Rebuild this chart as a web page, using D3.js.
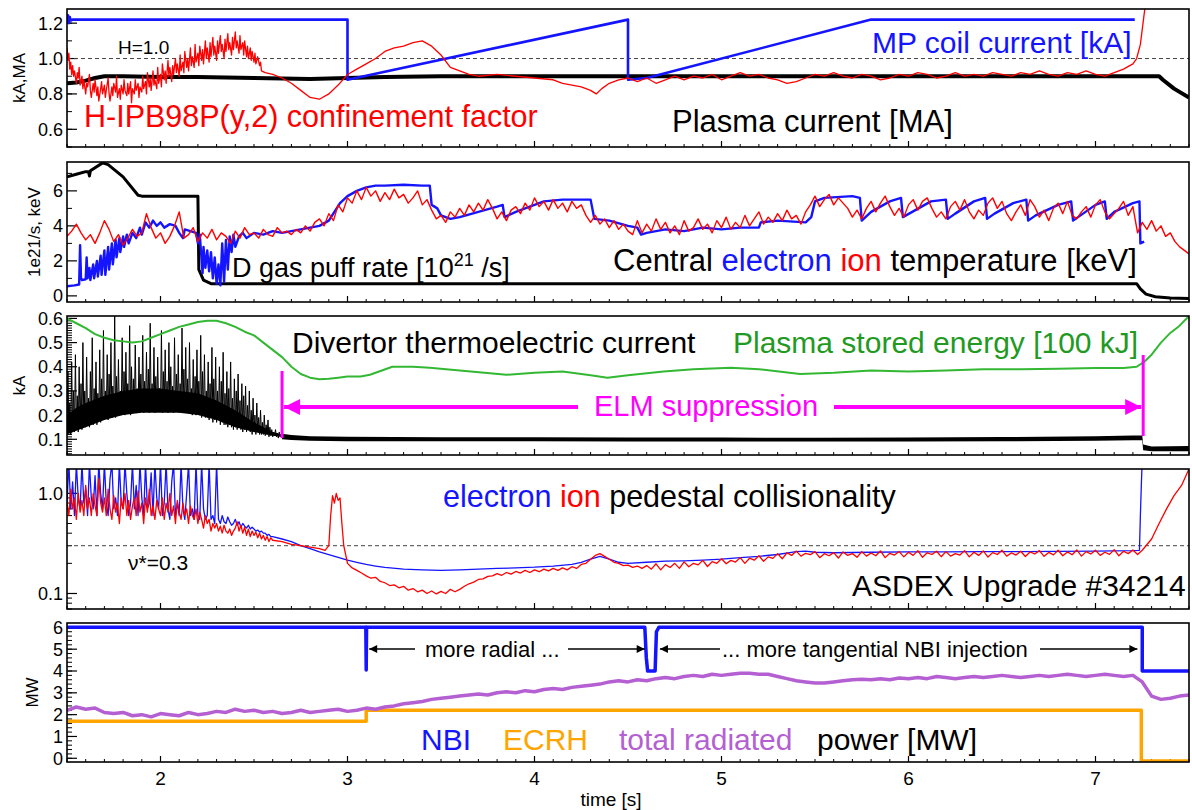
<!DOCTYPE html>
<html><head><meta charset="utf-8">
<script src="https://cdn.jsdelivr.net/npm/d3@7"></script>
<style>
body{margin:0;background:#fff}
svg{display:block}
text{font-family:"Liberation Sans",Arial,Helvetica,sans-serif}
</style>
</head><body>
<svg id="c" width="1192" height="810"></svg>
<script>
// ---------------- DATA ----------------
const timeDomain = [1.5, 7.5];
const xTicks = [2, 3, 4, 5, 6, 7];

// Panel 1
const p1Ticks = [0.6, 0.8, 1.0, 1.2];
const mpCoil = [[1.5,1.2],[1.505,1.245],[1.51,1.2],[1.515,1.235],[1.52,1.215],[1.53,1.22],[3.0,1.22],[3.0,0.88],[4.5,1.22],[4.5,0.88],[4.6,0.89],[5.8,1.22],[7.21,1.22]];
const plasmaCurrent = [[1.5,0.86],[1.55,0.865],[1.6,0.875],[1.65,0.89],[1.7,0.9],[1.8,0.9],[2.0,0.895],[2.2,0.895],[2.5,0.89],[2.8,0.885],[3.0,0.89],[3.2,0.895],[3.5,0.9],[4.0,0.9],[5.0,0.9],[6.0,0.9],[7.0,0.9],[7.34,0.9],[7.36,0.88],[7.42,0.83],[7.5,0.78]];
const hFactor = [[1.5,1.06],[1.505,0.99],[1.51,1.03],[1.515,0.94],[1.52,0.98],[1.525,0.91],[1.53,0.96],[1.535,0.9],[1.54,0.93],[1.55,0.86],[1.555,0.92],[1.56,0.89],[1.565,0.95],[1.57,0.85],[1.58,0.9],[1.585,0.83],[1.59,0.88],[1.6,0.8],[1.605,0.86],[1.61,0.84],[1.62,0.91],[1.625,0.82],[1.63,0.78],[1.64,0.86],[1.645,0.81],[1.65,0.88],[1.66,0.79],[1.665,0.84],[1.67,0.76],[1.68,0.83],[1.685,0.87],[1.69,0.8],[1.7,0.85],[1.705,0.78],[1.71,0.82],[1.72,0.89],[1.725,0.8],[1.73,0.76],[1.74,0.84],[1.745,0.79],[1.75,0.86],[1.76,0.81],[1.765,0.9],[1.77,0.78],[1.78,0.83],[1.785,0.77],[1.79,0.85],[1.8,0.8],[1.805,0.88],[1.81,0.82],[1.82,0.79],[1.825,0.86],[1.83,0.8],[1.84,0.87],[1.845,0.75],[1.85,0.83],[1.86,0.8],[1.865,0.88],[1.87,0.82],[1.88,0.86],[1.885,0.78],[1.89,0.84],[1.9,0.81],[1.905,0.9],[1.91,0.83],[1.92,0.87],[1.925,0.8],[1.93,0.92],[1.94,0.84],[1.945,0.89],[1.95,0.82],[1.96,0.93],[1.965,0.85],[1.97,0.88],[1.98,0.83],[1.985,0.95],[1.99,0.86],[2.0,0.91],[2.005,0.84],[2.01,0.97],[2.02,0.88],[2.025,0.93],[2.03,0.86],[2.04,0.99],[2.045,0.9],[2.05,0.95],[2.06,0.87],[2.065,0.96],[2.07,0.91],[2.08,1.0],[2.085,0.92],[2.09,0.97],[2.1,0.9],[2.105,1.02],[2.11,0.93],[2.12,0.98],[2.125,0.92],[2.13,1.04],[2.14,0.95],[2.145,1.0],[2.15,0.93],[2.16,1.06],[2.165,0.96],[2.17,1.01],[2.18,0.95],[2.185,1.08],[2.19,0.98],[2.2,1.03],[2.205,0.96],[2.21,1.07],[2.22,0.99],[2.225,1.05],[2.23,0.97],[2.24,1.1],[2.245,1.0],[2.25,1.06],[2.26,0.98],[2.265,1.09],[2.27,1.01],[2.28,1.12],[2.285,1.02],[2.29,1.07],[2.3,0.99],[2.305,1.1],[2.31,1.03],[2.32,1.13],[2.325,1.04],[2.33,1.08],[2.34,1.0],[2.345,1.11],[2.35,1.04],[2.36,1.14],[2.365,1.05],[2.37,1.09],[2.38,1.02],[2.385,1.12],[2.39,1.05],[2.4,1.15],[2.405,1.06],[2.41,1.1],[2.42,1.03],[2.425,1.13],[2.43,1.05],[2.44,1.09],[2.445,1.02],[2.45,1.1],[2.46,1.01],[2.465,1.07],[2.47,1.0],[2.48,1.06],[2.485,0.99],[2.49,1.04],[2.5,0.98],[2.505,1.03],[2.51,0.97],[2.52,1.01],[2.53,0.96],[2.535,0.98],[2.54,0.93],[2.56,0.92],[2.6,0.91],[2.65,0.89],[2.7,0.86],[2.75,0.82],[2.8,0.78],[2.85,0.77],[2.9,0.8],[2.95,0.85],[3.0,0.91],[3.05,0.94],[3.1,0.97],[3.15,1.0],[3.2,1.04],[3.25,1.06],[3.3,1.07],[3.35,1.09],[3.4,1.1],[3.45,1.07],[3.5,1.02],[3.55,0.95],[3.6,0.93],[3.65,0.91],[3.7,0.9],[3.8,0.91],[3.9,0.9],[4.0,0.89],[4.1,0.88],[4.15,0.86],[4.2,0.85],[4.25,0.84],[4.3,0.82],[4.33,0.8],[4.36,0.83],[4.4,0.86],[4.45,0.88],[4.5,0.89],[4.55,0.87],[4.6,0.89],[4.65,0.86],[4.7,0.88],[4.75,0.9],[4.8,0.88],[4.85,0.9],[4.9,0.89],[4.95,0.91],[5.0,0.88],[5.05,0.9],[5.1,0.92],[5.15,0.9],[5.2,0.91],[5.25,0.89],[5.3,0.88],[5.35,0.86],[5.4,0.87],[5.45,0.89],[5.5,0.91],[5.55,0.9],[5.6,0.92],[5.65,0.9],[5.7,0.89],[5.75,0.91],[5.8,0.9],[5.85,0.88],[5.9,0.89],[5.95,0.91],[6.0,0.9],[6.05,0.92],[6.1,0.91],[6.15,0.89],[6.2,0.9],[6.25,0.92],[6.3,0.9],[6.35,0.91],[6.4,0.9],[6.45,0.92],[6.5,0.91],[6.55,0.9],[6.6,0.92],[6.65,0.91],[6.7,0.93],[6.75,0.91],[6.8,0.9],[6.85,0.92],[6.9,0.91],[6.95,0.93],[7.0,0.91],[7.05,0.9],[7.1,0.92],[7.15,0.94],[7.2,0.97],[7.22,1.0],[7.24,1.08],[7.26,1.25],[7.28,1.4]];

// Panel 2
const p2Ticks = [0, 2, 4, 6];
const gasPuff = [[1.5,6.8],[1.55,6.95],[1.6,7.1],[1.615,7.1],[1.62,6.85],[1.625,7.15],[1.69,7.6],[1.72,7.5],[1.8,6.8],[1.88,5.75],[1.9,5.7],[2.2,5.7],[2.205,1.5],[2.23,0.9],[2.27,0.7],[7.22,0.7],[7.24,0.4],[7.27,0.1],[7.32,-0.05],[7.4,-0.12],[7.5,-0.15]];
const teCentral = [[1.5,0.55],[1.54,0.6],[1.565,0.65],[1.57,2.9],[1.575,1.0],[1.58,0.9],[1.6,0.95],[1.605,2.2],[1.61,1.0],[1.62,1.6],[1.625,0.9],[1.64,1.8],[1.645,1.0],[1.66,2.0],[1.665,1.1],[1.68,2.3],[1.685,1.2],[1.7,2.6],[1.705,1.2],[1.72,2.8],[1.725,1.5],[1.74,3.0],[1.745,1.8],[1.76,3.2],[1.765,2.2],[1.78,3.3],[1.785,2.5],[1.8,3.4],[1.805,2.8],[1.82,3.5],[1.83,3.0],[1.85,3.6],[1.87,3.3],[1.89,3.9],[1.9,3.5],[1.92,4.2],[1.94,3.9],[1.96,4.3],[1.98,4.0],[2.0,4.2],[2.02,3.9],[2.05,4.1],[2.08,4.0],[2.1,3.6],[2.12,3.3],[2.13,3.8],[2.16,3.7],[2.19,3.6],[2.2,3.0],[2.21,3.5],[2.225,1.3],[2.23,2.8],[2.24,1.6],[2.25,2.6],[2.26,1.4],[2.27,2.5],[2.28,1.0],[2.29,2.2],[2.3,0.7],[2.31,1.8],[2.32,0.6],[2.33,3.0],[2.34,0.8],[2.35,3.2],[2.36,1.5],[2.37,3.4],[2.38,2.5],[2.39,3.5],[2.4,2.8],[2.42,3.4],[2.44,3.6],[2.46,3.3],[2.5,3.6],[2.55,3.5],[2.6,3.7],[2.65,3.6],[2.7,3.7],[2.75,3.8],[2.8,3.9],[2.85,4.0],[2.9,4.3],[2.93,4.8],[2.96,5.3],[3.0,5.7],[3.05,6.0],[3.1,6.2],[3.15,6.3],[3.2,6.3],[3.3,6.35],[3.4,6.3],[3.44,6.3],[3.45,5.2],[3.48,5.0],[3.5,4.6],[3.55,4.4],[3.6,4.5],[3.7,4.8],[3.8,5.1],[3.83,5.2],[3.84,4.5],[3.9,4.8],[4.0,5.2],[4.05,5.4],[4.15,5.5],[4.3,5.5],[4.32,4.4],[4.4,4.3],[4.5,4.0],[4.55,3.9],[4.57,3.5],[4.6,3.6],[4.7,3.8],[4.8,3.7],[4.9,3.9],[5.0,3.8],[5.1,3.9],[5.2,3.9],[5.21,4.2],[5.3,4.3],[5.45,4.2],[5.48,4.5],[5.5,5.4],[5.55,5.6],[5.7,5.7],[5.74,5.6],[5.75,4.3],[5.8,4.8],[5.9,5.4],[5.96,5.6],[5.97,4.5],[6.02,4.8],[6.12,5.4],[6.2,5.5],[6.21,4.4],[6.25,4.7],[6.35,5.4],[6.41,5.6],[6.42,4.4],[6.46,4.7],[6.56,5.3],[6.63,5.5],[6.64,4.3],[6.68,4.6],[6.8,5.2],[6.87,5.4],[6.88,4.3],[6.92,4.6],[7.0,5.2],[7.05,5.4],[7.06,4.4],[7.1,4.8],[7.2,5.3],[7.235,5.4],[7.24,3.0],[7.26,3.1]];
const tiCentralStart = 1.5, tiCentralStep = 0.025;
const tiCentral = [3.4,3.7,4.1,3.6,3.2,3.5,3.0,3.6, 4.3,3.8,3.1,3.5,2.9,3.3,3.8,3.4, 3.6,4.7,3.9,3.3,3.6,3.0,3.4,4.0, 4.8,3.3,3.5,3.9,3.1,3.6,3.3,3.8, 3.2,3.6,3.4,3.0,3.7,3.3,3.9,3.5, 3.6,3.3,3.8,3.5,3.4,3.9,3.6,3.7, 3.5,3.8,3.6,4.0,3.7,4.2,4.4,4.0, 4.7,4.3,5.2,4.8,5.6,5.3,6.0,5.5, 6.2,5.7,6.0,5.4,5.9,5.5,6.1,5.6, 5.8,5.3,5.6,6.0,5.2,5.5,4.9,4.4, 4.6,4.2,4.8,4.5,5.0,4.6,5.2,4.8, 5.3,4.9,5.5,5.0,4.4,4.8,4.3,4.9, 5.1,4.7,5.3,4.9,5.6,5.1,5.4,4.9, 5.5,5.0,5.3,4.8,5.4,5.0,5.2,4.6, 4.2,4.6,4.1,4.4,3.9,4.3,3.8,4.1, 3.7,3.5,4.3,3.6,4.1,3.7,4.4,3.8, 4.2,3.6,4.0,3.5,4.3,3.7,3.9,4.4, 3.8,4.1,3.6,4.3,3.9,4.5,3.8,4.2, 3.9,4.6,4.0,4.4,4.8,4.1,4.5,4.2, 4.7,4.3,4.9,4.4,4.6,4.1,4.8,5.2, 5.7,5.1,5.5,5.8,5.2,5.6,5.3,5.0, 4.5,4.9,4.4,5.0,5.4,4.8,5.3,5.7, 5.1,4.6,5.0,4.5,5.2,5.5,4.9,5.4, 5.6,5.0,4.5,4.8,4.4,5.1,5.4,4.9, 5.5,4.8,4.4,4.9,4.6,5.3,5.6,5.0, 5.4,4.7,4.3,4.8,5.2,4.6,5.5,5.1, 4.5,4.9,4.3,5.0,5.3,4.7,5.4,4.6, 4.4,4.8,5.1,4.5,5.2,5.5,4.8,4.4, 4.7,5.0,5.4,4.6,5.1,3.6,4.2,3.8, 4.3,3.7,4.0,3.4,3.6,3.1,2.8,2.6, 2.4];

// Panel 3
const p3Ticks = [0.1, 0.2, 0.3, 0.4, 0.5, 0.6];
const storedEnergy = [[1.5,0.6],[1.55,0.58],[1.6,0.56],[1.65,0.535],[1.7,0.52],[1.75,0.51],[1.8,0.505],[1.85,0.5],[1.9,0.505],[1.95,0.52],[2.0,0.535],[2.05,0.55],[2.1,0.565],[2.15,0.575],[2.2,0.585],[2.25,0.59],[2.3,0.59],[2.35,0.58],[2.4,0.565],[2.45,0.545],[2.5,0.53],[2.55,0.5],[2.6,0.47],[2.65,0.44],[2.7,0.4],[2.75,0.37],[2.8,0.355],[2.85,0.348],[2.9,0.35],[2.95,0.355],[3.0,0.36],[3.07,0.36],[3.12,0.367],[3.24,0.4],[3.35,0.4],[3.44,0.396],[3.6,0.385],[3.85,0.367],[4.0,0.375],[4.15,0.38],[4.3,0.365],[4.39,0.355],[4.5,0.365],[4.69,0.38],[4.85,0.39],[5.05,0.396],[5.2,0.39],[5.42,0.37],[5.6,0.375],[5.8,0.385],[6.0,0.38],[6.2,0.385],[6.4,0.39],[6.6,0.39],[6.8,0.392],[7.0,0.395],[7.15,0.395],[7.22,0.4],[7.26,0.42],[7.3,0.45],[7.35,0.5],[7.4,0.54],[7.45,0.57],[7.5,0.61]];
const divElmyStart = 1.5, divElmyStep = 0.005;
const divElmy = [0.12,0.38,0.13,0.25,0.12,0.42,0.14,0.3,0.13,0.45, 0.14,0.28,0.13,0.4,0.15,0.33,0.14,0.5,0.16,0.3, 0.15,0.44,0.16,0.27,0.15,0.38,0.17,0.52,0.16,0.31, 0.17,0.42,0.16,0.29,0.18,0.47,0.17,0.35,0.18,0.55, 0.18,0.3,0.19,0.45,0.18,0.37,0.2,0.5,0.19,0.32, 0.2,0.62,0.19,0.36,0.2,0.43,0.21,0.3,0.2,0.52, 0.21,0.38,0.2,0.46,0.22,0.33,0.21,0.57,0.2,0.4, 0.22,0.35,0.21,0.49,0.22,0.31,0.21,0.44,0.23,0.37, 0.22,0.53,0.21,0.34,0.23,0.46,0.22,0.39,0.21,0.58, 0.22,0.33,0.23,0.48,0.21,0.36,0.22,0.44,0.23,0.31, 0.22,0.55,0.21,0.38,0.23,0.47,0.22,0.34,0.21,0.5, 0.23,0.4,0.22,0.32,0.21,0.52,0.23,0.37,0.22,0.45, 0.21,0.33,0.22,0.56,0.23,0.39,0.21,0.48,0.22,0.35, 0.21,0.5,0.22,0.31,0.2,0.43,0.21,0.36,0.2,0.47, 0.21,0.34,0.2,0.53,0.19,0.38,0.2,0.45,0.19,0.3, 0.19,0.42,0.18,0.33,0.19,0.48,0.17,0.35,0.18,0.44, 0.17,0.3,0.18,0.4,0.16,0.34,0.17,0.46,0.16,0.29, 0.16,0.38,0.15,0.31,0.16,0.42,0.15,0.27,0.14,0.35, 0.15,0.3,0.14,0.37,0.15,0.26,0.14,0.33,0.13,0.28, 0.14,0.32,0.13,0.24,0.14,0.3,0.13,0.22,0.12,0.27, 0.13,0.2,0.12,0.25,0.13,0.19,0.12,0.22,0.12,0.17, 0.12,0.2,0.115,0.16,0.12,0.18,0.11,0.15,0.115,0.14, 0.11,0.13,0.115,0.14,0.11,0.125,0.105,0.13,0.11,0.12, 0.11];
const divCoreT  = [1.5, 1.55, 1.6, 1.7, 1.8, 1.9, 2.0, 2.1, 2.2, 2.3, 2.4, 2.5, 2.6, 2.65];
const divCoreLo = [0.12, 0.135, 0.15, 0.18, 0.2, 0.21, 0.21, 0.21, 0.2, 0.18, 0.15, 0.13, 0.115, 0.11];
const divCoreHi = [0.2, 0.23, 0.25, 0.28, 0.3, 0.31, 0.31, 0.3, 0.29, 0.26, 0.22, 0.17, 0.13, 0.12];
const divBandT  = [2.65, 2.7, 2.8, 3.0, 3.5, 4.0, 4.5, 5.0, 5.5, 6.0, 6.5, 7.0, 7.2, 7.25, 7.255, 7.3, 7.5];
const divBandLo = [0.1, 0.097, 0.094, 0.092, 0.092, 0.092, 0.091, 0.091, 0.091, 0.091, 0.092, 0.094, 0.096, 0.096, 0.055, 0.05, 0.05];
const divBandHi = [0.123, 0.118, 0.113, 0.11, 0.108, 0.108, 0.107, 0.107, 0.106, 0.107, 0.109, 0.113, 0.116, 0.116, 0.078, 0.07, 0.072];
const elmSuppression = [2.65, 7.255];

// Panel 4 (log)
const p4Ticks = [0.1, 1.0];
const nuElmyStart = 1.5, nuElmyStep = 0.01;
const nuElectronElmy = [0.8,2.0,0.7,1.3,0.6,2.0,0.9,0.7,2.0,0.8, 1.1,0.6,2.0,0.9,0.7,1.5,0.6,2.0,1.0,0.7, 2.0,0.8,0.6,1.4,2.0,0.7,0.9,0.6,2.0,0.8, 0.7,2.0,1.0,0.6,0.8,2.0,0.7,1.2,0.6,2.0, 0.9,0.6,2.0,0.7,0.8,1.6,0.6,2.0,0.9,0.7, 2.0,0.6,0.8,2.0,0.7,0.55,1.3,2.0,0.6,0.8, 0.6,2.0,0.7,0.55,1.0,2.0,0.6,0.7,0.55,2.0, 0.6,0.55,2.0,0.7,0.55,0.6,2.0,0.55,0.6,0.5, 2.0,0.55,0.5,0.6,0.52,0.5,0.58,0.52,0.48,0.5, 0.55,0.48,0.52,0.46,0.5,0.47,0.45,0.48,0.44,0.46, 0.44,0.42,0.43,0.41,0.42,0.4,0.4,0.38,0.39,0.37, 0.37];
const nuIonElmy = [0.8,0.6,1.1,0.7,0.9,0.55,1.0,0.65,0.85,0.6, 1.2,0.7,0.9,0.6,1.0,0.75,0.6,1.4,0.8,0.65, 0.9,0.6,1.1,0.7,0.55,0.95,0.65,0.8,0.5,0.9, 0.7,1.0,0.6,0.85,0.55,0.75,0.9,0.6,1.05,0.65, 0.8,0.5,0.9,0.65,1.1,0.6,0.75,0.55,0.85,0.7, 0.6,0.9,0.55,0.8,0.65,1.0,0.6,0.75,0.5,0.85, 0.65,0.55,0.8,0.6,0.7,0.5,0.75,0.6,0.55,0.7, 0.5,0.65,0.55,0.45,0.6,0.5,0.55,0.42,0.5,0.45, 0.5,0.42,0.47,0.4,0.48,0.42,0.4,0.44,0.38,0.42, 0.45,0.52,0.42,0.48,0.4,0.46,0.38,0.44,0.37,0.42, 0.38,0.41,0.36,0.4,0.35,0.38,0.34,0.37,0.33,0.36, 0.34];
const nuElectronLate = [[2.65,0.35],[2.7,0.33],[2.75,0.3],[2.8,0.28],[2.85,0.26],[2.9,0.245],[2.95,0.23],[3.0,0.215],[3.05,0.205],[3.1,0.195],[3.15,0.188],[3.2,0.182],[3.3,0.175],[3.4,0.172],[3.5,0.17],[3.6,0.172],[3.7,0.175],[3.8,0.178],[3.9,0.18],[4.0,0.183],[4.1,0.188],[4.2,0.195],[4.25,0.205],[4.3,0.22],[4.35,0.235],[4.4,0.22],[4.45,0.205],[4.5,0.2],[4.6,0.205],[4.7,0.21],[4.8,0.212],[4.9,0.215],[5.0,0.22],[5.1,0.228],[5.2,0.235],[5.3,0.245],[5.4,0.262],[5.45,0.265],[5.5,0.258],[5.6,0.255],[5.8,0.258],[6.0,0.26],[6.2,0.26],[6.4,0.262],[6.6,0.262],[6.8,0.263],[7.0,0.265],[7.2,0.268],[7.235,0.27],[7.24,0.6],[7.245,1.2],[7.25,2.2]];
const nuIonMid = [[2.65,0.33],[2.7,0.31],[2.75,0.3],[2.8,0.29],[2.85,0.28],[2.88,0.27],[2.9,0.3],[2.91,0.6],[2.92,0.95],[2.93,0.8],[2.94,1.0],[2.95,0.85],[2.96,0.9],[2.97,0.5],[2.98,0.3]];
const nuIonLateStart = 3.0, nuIonLateStep = 0.025;
const nuIonLate = [0.2,0.18,0.17,0.16,0.15,0.142,0.145,0.132, 0.128,0.12,0.122,0.114,0.118,0.108,0.112,0.104, 0.108,0.1,0.106,0.099,0.105,0.1,0.11,0.104, 0.11,0.118,0.125,0.13,0.138,0.14,0.148,0.15, 0.158,0.152,0.162,0.156,0.166,0.16,0.17,0.162, 0.172,0.165,0.175,0.168,0.178,0.17,0.18,0.172, 0.185,0.178,0.195,0.2,0.22,0.24,0.25,0.235, 0.22,0.205,0.2,0.19,0.192,0.182,0.188,0.178, 0.19,0.175,0.198,0.172,0.194,0.182,0.2,0.178, 0.207,0.185,0.2,0.193,0.214,0.186,0.208,0.2, 0.222,0.198,0.214,0.206,0.228,0.2,0.225,0.215, 0.238,0.21,0.232,0.224,0.25,0.222,0.255,0.24, 0.265,0.236,0.252,0.244,0.262,0.228,0.25,0.238, 0.256,0.226,0.26,0.24,0.25,0.23,0.262,0.236, 0.254,0.238,0.266,0.228,0.252,0.242,0.262,0.232, 0.258,0.24,0.268,0.23,0.255,0.245,0.264,0.233, 0.262,0.236,0.25,0.242,0.268,0.232,0.258,0.24, 0.266,0.231,0.256,0.245,0.27,0.236,0.254,0.242, 0.264,0.234,0.26,0.248,0.268,0.235,0.257,0.243, 0.27,0.238,0.26,0.244,0.272,0.236,0.262,0.248, 0.27,0.24,0.258,0.246,0.274,0.238,0.264,0.25, 0.272,0.245,0.27];
const nuIonEnd = [[7.3,0.35],[7.34,0.5],[7.38,0.7],[7.42,0.95],[7.46,1.2],[7.5,1.75]];

// Panel 5
const p5Ticks = [0, 1, 2, 3, 4, 5, 6];
const nbiPower = [[1.5,6.0],[3.098,6.0],[3.1,4.05],[3.102,6.0],[4.59,6.0],[4.598,4.6],[4.605,4.0],[4.645,4.0],[4.652,5.8],[4.665,6.0],[7.25,6.0],[7.25,4.0],[7.5,4.0]];
const ecrhPower = [[1.5,1.7],[3.1,1.7],[3.1,2.2],[7.245,2.2],[7.245,-0.12],[7.5,-0.12]];
const radStart = 1.5, radStep = 0.05;
const radPower = [2.2,2.35,2.25,2.3,2.1,2.05,2.1,1.95,2.0,1.9, 2.05,2.0,1.95,2.1,2.0,2.05,2.15,2.1,2.25,2.15, 2.2,2.1,2.15,2.05,2.1,2.2,2.1,2.15,2.2,2.25, 2.15,2.2,2.3,2.25,2.35,2.4,2.5,2.55,2.6,2.7, 2.75,2.8,2.85,2.9,2.95,2.9,3.0,3.05,3.0,3.1, 3.05,3.15,3.2,3.15,3.25,3.3,3.35,3.4,3.5,3.55, 3.5,3.6,3.55,3.65,3.7,3.65,3.75,3.8,3.75,3.85, 3.8,3.85,3.9,3.9,3.85,3.85,3.75,3.65,3.55,3.5, 3.45,3.45,3.5,3.55,3.6,3.62,3.6,3.65,3.6,3.68, 3.65,3.7,3.65,3.75,3.7,3.65,3.7,3.75,3.7,3.75, 3.8,3.75,3.7,3.75,3.8,3.75,3.8,3.85,3.8,3.75, 3.8,3.85,3.8,3.75,3.8,3.5,2.85,2.7,2.75,2.85, 2.9];
const beamPhases = [3.1, 4.6, 4.66, 7.24];

// ---------------- DRAW ----------------
const svg = d3.select("#c");
const L = 67, R = 1189;
const x = d3.scaleLinear().domain(timeDomain).range([L, R]);
const grid = (t0, dt, vals) => vals.map((v, i) => [t0 + i * dt, v]);

const panels = [
  {top: 9,   bottom: 147, y: d3.scaleLinear().domain([0.5, 1.28]), major: p1Ticks, fmt: d3.format(".1f"), minor: d3.range(0.5, 1.28, 0.1), title: "kA,MA", tx: 19},
  {top: 162, bottom: 302, y: d3.scaleLinear().domain([-0.35, 7.65]), major: p2Ticks, fmt: d3.format("d"), minor: [1,3,5,7], title: "1e21/s, keV", tx: 34},
  {top: 316, bottom: 455, y: d3.scaleLinear().domain([0.035, 0.61]), major: p3Ticks, fmt: d3.format(".1f"), minor: d3.range(0.04, 0.61, 0.01), title: "kA", tx: 19},
  {top: 469, bottom: 609, y: d3.scaleLog().domain([0.07, 1.75]), major: p4Ticks, fmt: d3.format(".1f"), minor: [0.07,0.08,0.09,0.2,0.3,0.4,0.5,0.6,0.7,0.8,0.9], title: null},
  {top: 623, bottom: 762, y: d3.scaleLinear().domain([-0.17, 6.2]), major: p5Ticks, fmt: d3.format("d"), minor: d3.range(-0.0, 6.2, 0.2), title: "MW", tx: 32}
];
panels.forEach(p => p.y.range([p.bottom, p.top]));

const defs = svg.append("defs");
panels.forEach((p, i) => {
  defs.append("clipPath").attr("id", "clip" + i).append("rect")
    .attr("x", L).attr("y", p.top).attr("width", R - L).attr("height", p.bottom - p.top);
});
function arrowMarker(id, color, w, h) {
  defs.append("marker").attr("id", id).attr("viewBox", "0 0 10 10").attr("refX", 10).attr("refY", 5)
    .attr("markerWidth", w).attr("markerHeight", h).attr("orient", "auto-start-reverse")
    .attr("markerUnits", "userSpaceOnUse")
    .append("path").attr("d", "M0,0 L10,5 L0,10 z").attr("fill", color);
}
arrowMarker("arrM", "#ff00ff", 22, 16);
arrowMarker("arrK", "#000", 14, 8);

// axes + frames
const xMinor = d3.range(1.5, 7.5001, 0.1);
panels.forEach((p, i) => {
  const g = svg.append("g");
  g.selectAll(".xm").data(xMinor).join("line")
    .attr("x1", d => x(d)).attr("x2", d => x(d)).attr("y1", p.bottom).attr("y2", p.bottom - 3)
    .attr("stroke", "#000").attr("stroke-width", 1);
  g.selectAll(".xM").data(xTicks).join("line")
    .attr("x1", d => x(d)).attr("x2", d => x(d)).attr("y1", p.bottom).attr("y2", p.bottom - 6)
    .attr("stroke", "#000").attr("stroke-width", 1.2);
  g.selectAll(".ym").data(p.minor.filter(v => v >= p.y.domain()[0] && v <= p.y.domain()[1])).join("line")
    .attr("x1", L).attr("x2", L + 5).attr("y1", d => p.y(d)).attr("y2", d => p.y(d))
    .attr("stroke", "#000").attr("stroke-width", 1);
  g.selectAll(".yM").data(p.major).join("line")
    .attr("x1", L).attr("x2", L + 10).attr("y1", d => p.y(d)).attr("y2", d => p.y(d))
    .attr("stroke", "#000").attr("stroke-width", 1.2);
  g.selectAll(".yl").data(p.major).join("text")
    .attr("x", 63).attr("y", d => p.y(d)).attr("dy", "0.36em").attr("text-anchor", "end")
    .attr("font-size", 18).text(d => p.fmt(d));
  if (p.title) {
    g.append("text").attr("transform", `translate(${p.tx},${(p.top + p.bottom) / 2}) rotate(-90)`)
      .attr("text-anchor", "middle").attr("dy", "0.35em").attr("font-size", 17).text(p.title);
  }
  p.g = svg.append("g").attr("clip-path", `url(#clip${i})`);
});

function line(p, data, color, w) {
  p.g.append("path").datum(data)
    .attr("d", d3.line().x(d => x(d[0])).y(d => p.y(d[1])))
    .attr("fill", "none").attr("stroke", color).attr("stroke-width", w).attr("stroke-linejoin", "round");
}
function band(p, ts, lo, hi, color) {
  const rows = ts.map((t, i) => [t, lo[i], hi[i]]);
  p.g.append("path").datum(rows)
    .attr("d", d3.area().x(d => x(d[0])).y0(d => p.y(d[1])).y1(d => p.y(d[2])))
    .attr("fill", color);
}
function hline(p, v) {
  p.g.append("line").attr("x1", L).attr("x2", R).attr("y1", p.y(v)).attr("y2", p.y(v))
    .attr("stroke", "#444").attr("stroke-width", 1).attr("stroke-dasharray", "4,3");
}
function label(xp, yp, str, color, size, anchor, family) {
  return svg.append("text").attr("x", xp).attr("y", yp).attr("fill", color).attr("font-size", size)
    .attr("text-anchor", anchor || "start").attr("font-family", family || null).text(str);
}

const BLUE = "#1414ff", RED = "#ff0000";

// Panel 1
const P1 = panels[0];
hline(P1, 1.0);
line(P1, plasmaCurrent, "#000", 4);
line(P1, mpCoil, BLUE, 2.6);
line(P1, hFactor, RED, 1.3);
label(118, 54, "H=1.0", "#000", 19);
label(872, 53, "MP coil current [kA]", BLUE, 30);
label(84, 127, "H-IPB98P(y,2) confinement factor", RED, 30.5);
label(672, 132, "Plasma current [MA]", "#000", 31);

// Panel 2
const P2 = panels[1];
line(P2, gasPuff, "#000", 3);
line(P2, teCentral, BLUE, 2.4);
line(P2, grid(tiCentralStart, tiCentralStep, tiCentral), RED, 1.4);
const gp = label(232, 277, "", "#000", 27);
gp.append("tspan").text("D gas puff rate [10");
gp.append("tspan").attr("font-size", 18).attr("dy", -11).text("21");
gp.append("tspan").attr("dy", 11).text(" /s]");
const ct = label(613, 271, "", "#000", 31);
ct.append("tspan").text("Central ");
ct.append("tspan").attr("fill", BLUE).text(" electron");
ct.append("tspan").attr("fill", RED).text(" ion");
ct.append("tspan").text("  temperature [keV]");

// Panel 3
const P3 = panels[2];
band(P3, divCoreT, divCoreLo, divCoreHi, "#000");
line(P3, grid(divElmyStart, divElmyStep, divElmy), "#000", 1);
band(P3, divBandT, divBandLo, divBandHi, "#000");
line(P3, storedEnergy, "#33b833", 2);
label(292, 353, "Divertor thermoelectric current", "#000", 30);
label(733, 353, "Plasma stored energy [100 kJ]", "#229922", 30);
const MAG = "#ff00ff";
const xe0 = x(elmSuppression[0]), xe1 = x(elmSuppression[1]);
svg.append("line").attr("x1", xe0).attr("x2", xe0).attr("y1", 371).attr("y2", 438).attr("stroke", MAG).attr("stroke-width", 3);
svg.append("line").attr("x1", xe1).attr("x2", xe1).attr("y1", 355).attr("y2", 436).attr("stroke", MAG).attr("stroke-width", 3);
svg.append("line").attr("x1", 578).attr("x2", xe0 + 2).attr("y1", 407).attr("y2", 407).attr("stroke", MAG).attr("stroke-width", 4).attr("marker-end", "url(#arrM)");
svg.append("line").attr("x1", 834).attr("x2", xe1 - 2).attr("y1", 407).attr("y2", 407).attr("stroke", MAG).attr("stroke-width", 4).attr("marker-end", "url(#arrM)");
label(706, 416, "ELM suppression", MAG, 29, "middle");

// Panel 4
const P4 = panels[3];
hline(P4, 0.3);
line(P4, grid(nuElmyStart, nuElmyStep, nuElectronElmy).concat(nuElectronLate), BLUE, 1.3);
line(P4, grid(nuElmyStart, nuElmyStep, nuIonElmy).concat(nuIonMid, grid(nuIonLateStart, nuIonLateStep, nuIonLate), nuIonEnd), RED, 1.3);
const pc = label(443, 507, "", "#000", 30.5);
pc.append("tspan").attr("fill", BLUE).text("electron");
pc.append("tspan").attr("fill", RED).text(" ion");
pc.append("tspan").text("  pedestal collisionality");
label(128, 570, "ν*=0.3", "#000", 21, "start", "'Liberation Serif','Times New Roman',serif");
label(852, 596, "ASDEX Upgrade #34214", "#000", 30);

// Panel 5
const P5 = panels[4];
line(P5, ecrhPower, "#ffa500", 3.5);
line(P5, grid(radStart, radStep, radPower), "#b45fd2", 3.5);
line(P5, nbiPower, BLUE, 3.5);
label(421, 750, "NBI", BLUE, 30);
label(503, 750, "ECRH", "#ffa500", 30);
label(619, 750, "total radiated", "#b45fd2", 30);
label(817, 750, "power [MW]", "#000", 30);
const yA = 649;
svg.append("line").attr("x1", 415).attr("x2", x(beamPhases[0]) + 3).attr("y1", yA).attr("y2", yA).attr("stroke", "#000").attr("stroke-width", 1.3).attr("marker-end", "url(#arrK)");
svg.append("line").attr("x1", 568).attr("x2", x(beamPhases[1]) - 2).attr("y1", yA).attr("y2", yA).attr("stroke", "#000").attr("stroke-width", 1.3).attr("marker-end", "url(#arrK)");
svg.append("line").attr("x1", 720).attr("x2", x(beamPhases[2]) + 2).attr("y1", yA).attr("y2", yA).attr("stroke", "#000").attr("stroke-width", 1.3).attr("marker-end", "url(#arrK)");
svg.append("line").attr("x1", 1040).attr("x2", x(beamPhases[3]) - 3).attr("y1", yA).attr("y2", yA).attr("stroke", "#000").attr("stroke-width", 1.3).attr("marker-end", "url(#arrK)");
label(425, 657, "more radial ...", "#000", 22);
label(722, 657, "... more tangential NBI injection", "#000", 22);

// frames on top
panels.forEach(p => {
  svg.append("rect").attr("x", L).attr("y", p.top).attr("width", R - L).attr("height", p.bottom - p.top)
    .attr("fill", "none").attr("stroke", "#000").attr("stroke-width", 1.6);
});

svg.selectAll(".xl").data(xTicks).join("text")
  .attr("x", d => x(d)).attr("y", 785).attr("text-anchor", "middle").attr("font-size", 19).text(d => d);
label(611, 806, "time [s]", "#000", 19, "middle");
</script>
</body></html>
